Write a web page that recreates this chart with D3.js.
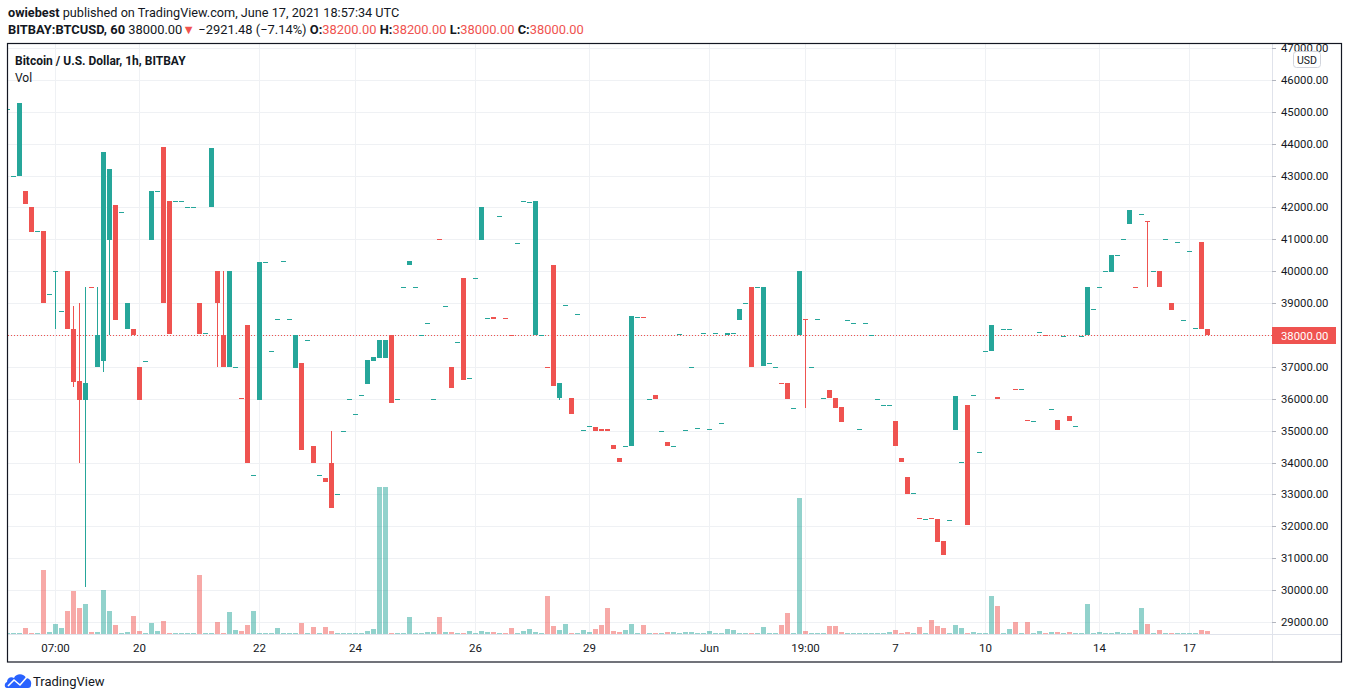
<!DOCTYPE html>
<html><head><meta charset="utf-8">
<script src="https://cdn.jsdelivr.net/npm/d3@7"></script>
<style>
body{margin:0;background:#fff;}
svg{display:block;font-family:Roboto,"Noto Sans",sans-serif;}
</style>
</head><body>
<svg id="chart" width="1348" height="699"></svg>
<script>
// ---- DATA (1h candles, BITBAY:BTCUSD, only hours with trades) ----
const opens = [
45100,43000,43000,42520,42000,41250,41260,39280,40000,38750,
40000,38200,36560,35960,39510,37000,37180,40980,42080,41850,
38200,38200,37000,37200,40980,42510,43900,42200,42200,42200,
42000,42000,39000,38050,42000,40000,38000,37000,37000,36010,
38300,33600,35960,40280,37490,38490,40310,38490,36970,37120,
37830,34520,33600,33520,34000,33000,35000,36000,35510,36110,
36470,37180,37290,37290,38000,36000,39500,40180,39500,38000,
38370,36000,41010,38900,37000,37780,39790,36660,39780,40980,
38530,38570,41720,38540,38010,40880,42190,42160,38000,38000,
37010,40200,36020,38940,36040,38660,35030,35135,35100,35040,
35040,34540,34130,34530,34520,38560,38570,36000,36130,35000,
34630,34530,38030,35030,37000,35080,38060,35060,38060,35250,
38000,38060,38480,39000,39510,39500,37040,37125,37000,36510,
36510,35720,38000,38510,37000,38500,36030,36260,36010,35730,
38470,38375,35060,38375,38000,36000,35810,35810,35290,34130,
33540,33030,32250,32240,32250,32240,31530,32210,35010,34030,
35790,36080,34340,37500,37490,36070,38190,38190,36320,36310,
35350,35310,38090,38010,35690,35320,37970,35450,35150,37970,
38000,38810,39500,40000,39980,40500,41000,41480,39510,41780,
41570,40000,40010,41000,39010,40910,38470,40625,38220,40921,
38200];
const closes = [
45100,43000,45280,42120,41240,41250,39000,39280,40000,38750,
38200,36530,35960,36500,39500,38000,43740,43210,38480,41850,
39000,38000,35960,37200,42520,42510,39000,38040,42200,42200,
42000,42000,38040,38050,43870,39000,37000,40000,37000,36000,
34000,33600,40290,40280,37490,38490,40310,38490,38000,34400,
37830,34000,33600,33400,32580,33000,35000,36000,35510,36110,
37220,37310,37840,37840,35880,36000,39500,40320,39500,38000,
38370,36000,41000,38900,36350,37780,36600,36660,39780,42010,
38530,38510,41720,38530,38000,40880,42190,42160,42200,38000,
37000,36390,36510,38940,35510,38660,35030,35135,34980,34980,
34980,34430,34020,34530,38610,38560,38560,36000,36000,35000,
34520,34530,38030,35030,37000,35080,38060,35060,38060,35250,
38070,38060,38820,39000,37000,39500,39510,37125,37000,36500,
35980,35720,40010,38500,37000,38500,36030,36010,35700,35270,
38470,38375,35060,38375,38000,36000,35810,35810,34510,34020,
33010,33030,32240,32240,32240,31510,31100,32210,36100,34030,
32040,36130,34340,37500,38320,35980,38190,38190,36310,36310,
35290,35310,38090,38000,35690,35010,37970,35290,35150,37970,
39510,38810,39500,40000,40510,40500,41000,41920,39500,41780,
41560,40000,39490,41000,38790,40910,38470,40625,38220,38200,
38000];
// wicks that reach beyond the body: [candle index, high, low]
const wicks = [
[8,40000,38200],[11,38900,36380],[12,39000,34000],[13,39500,30110],
[15,39500,37000],[16,43740,36840],[17,43210,38000],[35,40000,37000],
[36,40000,37000],[54,35000,32580],[92,36510,35960],[133,38510,35710],
[190,41570,39500]];
const volumes = [
1,1,1,6,1,1,64,2,10,6,
23,43,26,30,2,2,44,23,9,1,
2,18,3,1,11,3,13,1,1,1,
1,1,59,1,1,12,1,22,4,3,
9,23,1,1,1,6,1,1,1,11,
1,7,1,7,3,1,1,1,1,1,
3,5,147,147,1,1,1,17,1,1,
2,2,17,2,2,1,1,3,1,3,
2,2,1,1,6,1,3,5,2,1,
38,8,4,10,1,1,4,2,5,9,
26,3,2,4,10,1,9,1,1,1,
2,2,1,2,2,1,1,3,1,1,
5,4,1,1,1,1,7,1,1,9,
21,1,136,3,1,1,1,8,8,2,
1,1,1,1,1,1,1,2,4,1,
2,1,7,1,14,8,6,1,9,6,
1,2,1,1,38,28,1,5,12,1,
12,1,3,1,2,2,1,2,1,1,
30,1,2,1,1,2,1,1,4,26,
10,1,4,1,1,1,1,1,1,4,
3];
const priceTicks = [29000,30000,31000,32000,33000,34000,35000,36000,37000,38000,
  39000,40000,41000,42000,43000,44000,45000,46000,47000];
const timeTickIndex = [8,22,42,58,78,97,117,133,148,163,182,197];
const timeTickLabels = ["07:00","20","22","24","26","29","Jun","19:00","7","10","14","17"];
const lastPrice = 38000;

// ---- DRAW ----
const UP = "#26a69a", DOWN = "#ef5350";
const UPV = "rgba(38,166,154,0.5)", DOWNV = "rgba(239,83,80,0.5)";
const TXT = "#131722";
const svg = d3.select("#chart");
svg.append("rect").attr("width",1348).attr("height",699).attr("fill","#fff");

const plot = {l:8, t:44, r:1272, b:634};
const x = d3.scaleLinear().domain([0, opens.length-1]).range([7.5, 1207.5]);
const y = d3.scaleLinear().domain([29000, 47000]).range([622, 48]);
const yv = d3.scaleLinear().domain([0, d3.max(volumes)]).range([634, 487]);

const defs = svg.append("defs");
defs.append("clipPath").attr("id","plotclip").append("rect")
  .attr("x",plot.l).attr("y",plot.t).attr("width",plot.r-plot.l).attr("height",plot.b-plot.t);
defs.append("clipPath").attr("id","axisclip").append("rect")
  .attr("x",1272).attr("y",44).attr("width",70).attr("height",590);

// header
const h1 = svg.append("text").attr("x",8).attr("y",17).attr("font-size",12.7).attr("fill",TXT);
h1.append("tspan").attr("font-weight","bold").text("owiebest");
h1.append("tspan").text(" published on TradingView.com, June 17, 2021 18:57:34 UTC");

const h2 = svg.append("text").attr("x",8).attr("y",34).attr("font-size",12.9).attr("fill",TXT);
h2.append("tspan").attr("font-weight","bold").text("BITBAY:BTCUSD, 60");
h2.append("tspan").text(" 38000.00");
h2.append("tspan").attr("fill",DOWN).text("▼");
h2.append("tspan").text(" \u22122921.48 (\u22127.14%) ");
[["O:","38200.00"],["H:","38200.00"],["L:","38000.00"],["C:","38000.00"]].forEach(([k,v],j)=>{
  h2.append("tspan").attr("font-weight","bold").text((j? " ":"")+k);
  h2.append("tspan").attr("fill",DOWN).text(v);
});

// grid
const grid = svg.append("g").attr("clip-path","url(#plotclip)");
grid.selectAll("line.h").data(priceTicks).join("line")
  .attr("x1",plot.l).attr("x2",plot.r)
  .attr("y1",d=>Math.round(y(d))+0.5).attr("y2",d=>Math.round(y(d))+0.5)
  .attr("stroke","#eff1f4").attr("stroke-width",1);
grid.selectAll("line.v").data(timeTickIndex).join("line")
  .attr("x1",d=>x(d)).attr("x2",d=>x(d))
  .attr("y1",plot.t).attr("y2",plot.b)
  .attr("stroke","#eff1f4").attr("stroke-width",1);

// volume
const volG = svg.append("g").attr("clip-path","url(#plotclip)");
volG.selectAll("rect").data(volumes).join("rect")
  .attr("x",(d,i)=>x(i)-2.5).attr("width",5)
  .attr("y",d=>Math.min(yv(d), 633))
  .attr("height",d=>634-Math.min(yv(d),633))
  .attr("fill",(d,i)=>closes[i]>=opens[i]?UPV:DOWNV);

// last price dotted line
svg.append("line").attr("x1",plot.l).attr("x2",plot.r)
  .attr("y1",Math.round(y(lastPrice))+0.5).attr("y2",Math.round(y(lastPrice))+0.5)
  .attr("stroke",DOWN).attr("stroke-width",1).attr("stroke-dasharray","1,2");

// candles
const wickMap = new Map(wicks.map(w=>[w[0],w]));
const cg = svg.append("g").attr("clip-path","url(#plotclip)");
const idx = d3.range(opens.length);
cg.selectAll("line.w").data(idx.filter(i=>wickMap.has(i))).join("line")
  .attr("x1",i=>x(i)).attr("x2",i=>x(i))
  .attr("y1",i=>Math.round(y(wickMap.get(i)[1])))
  .attr("y2",i=>Math.round(y(wickMap.get(i)[2])))
  .attr("stroke",i=>closes[i]>=opens[i]?UP:DOWN).attr("stroke-width",1);
cg.selectAll("rect").data(idx).join("rect")
  .attr("x",i=>x(i)-2.5).attr("width",5)
  .attr("y",i=>Math.round(y(Math.max(opens[i],closes[i]))))
  .attr("height",i=>Math.max(1, Math.round(y(Math.min(opens[i],closes[i])))-Math.round(y(Math.max(opens[i],closes[i])))))
  .attr("fill",i=>closes[i]>=opens[i]?UP:DOWN);

// axes lines
svg.append("line").attr("x1",8).attr("x2",1341).attr("y1",634.5).attr("y2",634.5).attr("stroke","#e0e3eb");
svg.append("line").attr("x1",1272.5).attr("x2",1272.5).attr("y1",44).attr("y2",662).attr("stroke","#e0e3eb");

// price axis
const pa = svg.append("g").attr("clip-path","url(#axisclip)");
pa.selectAll("line").data(priceTicks).join("line")
  .attr("x1",1272).attr("x2",1276)
  .attr("y1",d=>Math.round(y(d))+0.5).attr("y2",d=>Math.round(y(d))+0.5)
  .attr("stroke","#b2b5be");
pa.selectAll("text").data(priceTicks).join("text")
  .attr("x",1281).attr("y",d=>y(d)+4)
  .attr("font-size",11.3).attr("fill",TXT)
  .text(d=>d.toFixed(2));

// last price label
svg.append("rect").attr("x",1272).attr("y",Math.round(y(lastPrice))-8).attr("width",64).attr("height",17).attr("fill",DOWN);
svg.append("text").attr("x",1281).attr("y",y(lastPrice)+4.5).attr("font-size",11.3).attr("fill","#fff").text(lastPrice.toFixed(2));

// USD badge
svg.append("rect").attr("x",1293.5).attr("y",51.5).attr("width",27).attr("height",16).attr("rx",3)
  .attr("fill","#fff").attr("stroke","#d1d4dc");
svg.append("text").attr("x",1307).attr("y",63.5).attr("text-anchor","middle").attr("font-size",10.5).attr("fill",TXT).text("USD");

// time axis
svg.append("g").selectAll("text").data(timeTickIndex).join("text")
  .attr("x",d=>x(d)).attr("y",652).attr("text-anchor","middle")
  .attr("font-size",11.5).attr("fill",TXT)
  .text((d,j)=>timeTickLabels[j]);

// legend texts
svg.append("text").attr("x",15).attr("y",65).attr("font-size",12).attr("font-weight","bold").attr("fill",TXT)
  .text("Bitcoin / U.S. Dollar, 1h, BITBAY");
svg.append("text").attr("x",15).attr("y",82).attr("font-size",12).attr("fill",TXT).text("Vol");

// frame
svg.append("rect").attr("x",7.5).attr("y",43.5).attr("width",1334).attr("height",618.5)
  .attr("fill","none").attr("stroke","#131722").attr("stroke-width",1.2);

// TradingView logo
const lg = svg.append("g");
lg.append("path").attr("fill","#2962ff")
  .attr("d","M7,688 C4,688 4,683 7,682 C7,678 11,676 14,678 C16,673 24,673 26,678 C30,678 32,682 31,685 C31,687 30,688 28,688 Z");
lg.append("polyline").attr("points","8,686 14,680 20,685 27,677").attr("fill","none")
  .attr("stroke","#fff").attr("stroke-width",1.6);
svg.append("text").attr("x",33).attr("y",686).attr("font-size",13).attr("fill",TXT).text("TradingView");
</script>
</body></html>
